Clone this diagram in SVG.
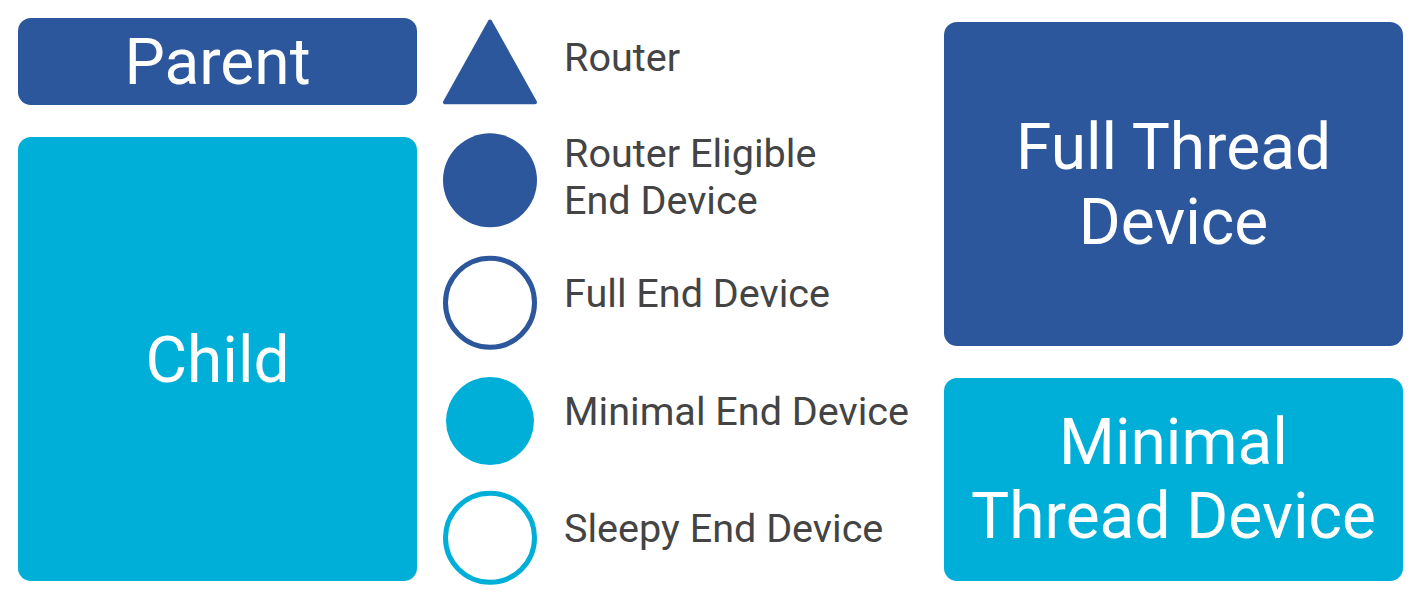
<svg xmlns="http://www.w3.org/2000/svg" width="1422" height="604" viewBox="0 0 1422 604">
<style>
.dark{fill:#2D579C}
.cyan{fill:#00AFD8}
.big{font-family:Roboto,"Liberation Sans",sans-serif;font-size:64px;fill:#FFFFFF;text-anchor:middle}
.leg{font-family:Roboto,"Liberation Sans",sans-serif;font-size:39.6px;fill:#444444}
</style>
<rect width="1422" height="604" fill="#FFFFFF"/>
<g id="parent">
<rect class="dark" x="18" y="18" width="399" height="87" rx="13"/>
<text class="big" x="217.5" y="83.5">Parent</text>
</g>
<g id="child">
<rect class="cyan" x="18" y="137" width="399" height="444" rx="13"/>
<text class="big" x="217.5" y="382">Child</text>
</g>
<g id="router">
<polygon class="dark" points="490,21.5 445,102.3 535,102.3" stroke="#2D579C" stroke-width="4" stroke-linejoin="round"/>
<text class="leg" x="564" y="71">Router</text>
</g>
<g id="reed">
<circle class="dark" cx="490" cy="180.3" r="47"/>
<text class="leg" x="564" y="166.7">Router Eligible</text>
<text class="leg" x="564" y="214">End Device</text>
</g>
<g id="fed">
<circle cx="490" cy="302.7" r="44.5" fill="#FFFFFF" stroke="#2D579C" stroke-width="5"/>
<text class="leg" x="564" y="306.7">Full End Device</text>
</g>
<g id="med">
<circle class="cyan" cx="490" cy="421" r="44"/>
<text class="leg" x="564" y="425">Minimal End Device</text>
</g>
<g id="sed">
<circle cx="490" cy="537.7" r="44.5" fill="#FFFFFF" stroke="#00AFD8" stroke-width="5"/>
<text class="leg" x="564" y="541.5">Sleepy End Device</text>
</g>
<g id="ftd">
<rect class="dark" x="944" y="22" width="459" height="324" rx="13"/>
<text class="big" x="1173.5" y="169">Full Thread</text>
<text class="big" x="1173.5" y="244">Device</text>
</g>
<g id="mtd">
<rect class="cyan" x="944" y="378" width="459" height="203" rx="13"/>
<text class="big" x="1173.5" y="464">Minimal</text>
<text class="big" x="1173.5" y="538.3">Thread Device</text>
</g>
<g id="connectors"></g>
</svg>
